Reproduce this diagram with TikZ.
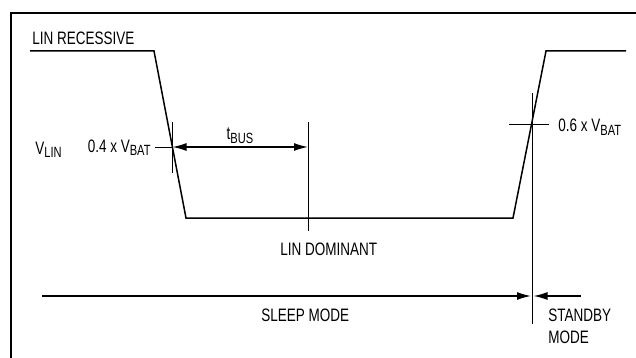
\documentclass[tikz,border=0pt]{standalone}
\usepackage{fontspec}
\setmainfont{Liberation Sans}[FakeStretch=0.75]
\usetikzlibrary{arrows.meta}
\newcommand{\lowtxt}[1]{\raisebox{-0.35ex}{\fontsize{7.4pt}{8pt}\selectfont #1}}
\tikzset{
  lbl/.style={inner sep=0pt, font=\fontsize{9pt}{10pt}\selectfont},
  waveline/.style={line width=0.75pt, line join=miter},
  markline/.style={line width=0.5pt},
  dimarrow/.style={line width=0.7pt, -{Latex[length=7pt,width=4pt]}},
  frameline/.style={line width=1.4pt}
}
\begin{document}
\begin{tikzpicture}[x=0.5pt,y=-0.5pt]
\useasboundingbox (0,0) rectangle (636,358);
% frame
\draw[frameline] (11,358) -- (11,13) -- (636,13);
% waveform
\coordinate (w0) at (30,51);
\coordinate (w1) at (154,51);
\coordinate (w2) at (186,218);
\coordinate (w3) at (513,218);
\coordinate (w4) at (546,51);
\coordinate (w5) at (626,51);
\draw[waveline] (w0) -- (w1) -- (w2) -- (w3) -- (w4) -- (w5);
% left marker
\coordinate (lmT) at (172.5,122);
\coordinate (lmB) at (172.5,173);
\draw[markline] (lmT) -- (lmB);
\coordinate (lhA) at (155,147);
\coordinate (lhB) at (172.5,147);
\draw[markline] (lhA) -- (lhB);
% tBUS marker
\coordinate (tmT) at (308,122);
\coordinate (tmB) at (308,231);
\draw[markline] (tmT) -- (tmB);
\coordinate (tbR) at (308,147);
\draw[dimarrow, {Latex[length=7pt,width=4pt]}-{Latex[length=7pt,width=4pt]}] (lhB) -- (tbR);
% right marker
\coordinate (rmT) at (532,93);
\coordinate (rmB) at (532,324);
\draw[markline] (rmT) -- (rmB);
\coordinate (rhA) at (509,124);
\coordinate (rhB) at (549,124);
\draw[markline] (rhA) -- (rhB);
% mode arrows
\coordinate (sA) at (42,296);
\coordinate (sB) at (531,296);
\draw[dimarrow] (sA) -- (sB);
\coordinate (bA) at (581,296);
\coordinate (bB) at (533.5,296);
\draw[dimarrow] (bA) -- (bB);
% labels
\node[lbl, anchor=base west] (rec) at (32,45) {LIN RECESSIVE};
\node[lbl, anchor=base west] (vlin) at (35,154) {V\lowtxt{LIN}};
\node[lbl, anchor=base east] (v04) at (151,152) {0.4 x V\lowtxt{BAT}};
\node[lbl, anchor=base] (tbus) at (240,140) {t\lowtxt{BUS}};
\node[lbl, anchor=base west] (v06) at (558,132) {0.6 x V\lowtxt{BAT}};
\node[lbl, anchor=base west] (dom) at (280,255) {LIN DOMINANT};
\node[lbl, anchor=base west] (sleep) at (261,321) {SLEEP MODE};
\node[lbl, anchor=base west] (stb1) at (548,321) {STANDBY};
\node[lbl, anchor=base west] (stb2) at (548,343) {MODE};
\end{tikzpicture}
\end{document}
